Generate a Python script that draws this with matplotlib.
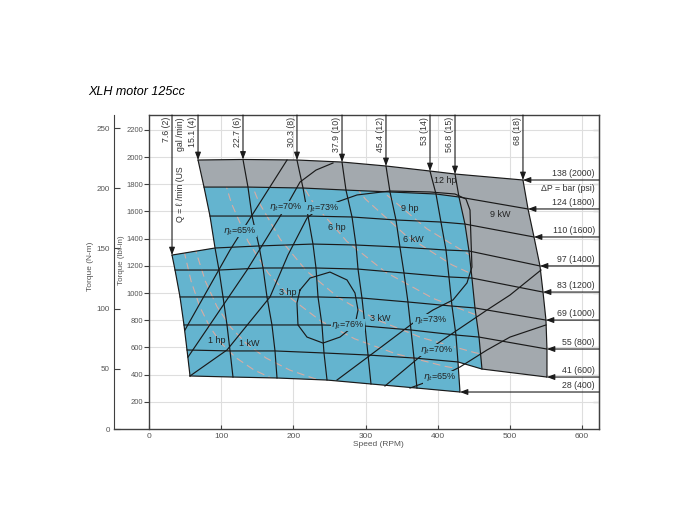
import numpy as np
import matplotlib.pyplot as plt
from matplotlib.patches import Polygon

plt.rcParams['font.family'] = ['Liberation Sans', 'DejaVu Sans']
plt.rcParams['mathtext.fontset'] = 'dejavusans'

# flow lines  Q = l/min (US gal/min)
flow_labels = ['7.6 (2)', '15.1 (4)', '22.7 (6)', '30.3 (8)', '37.9 (10)',
               '45.4 (12)', '53 (14)', '56.8 (15)', '68 (18)']
# pressure lines  dP = bar (psi)
pressure_labels = ['138 (2000)', '124 (1800)', '110 (1600)', '97 (1400)', '83 (1200)',
                   '69 (1000)', '55 (800)', '41 (600)', '28 (400)']

nan = np.nan
# speed (RPM) where flow line (row) crosses pressure line (column)
node_speed = np.array([
    [nan, nan, nan, 31.5, 35.7, 42.6, 48.1, 52.3, 56.5],
    [67.6, 75.9, 84.2, 91.2, 96.7, 102.3, 107.8, 112.0, 116.1],
    [130.0, 136.9, 142.5, 152.2, 157.8, 163.3, 170.2, 174.4, 177.2],
    [204.9, 213.3, 220.2, 227.1, 231.3, 234.1, 239.6, 242.4, 246.6],
    [267.4, 272.9, 281.3, 286.8, 289.6, 295.1, 299.3, 303.5, 307.6],
    [328.4, 334.0, 342.3, 347.8, 353.4, 358.9, 363.1, 367.3, 371.4],
    [389.5, 397.8, 404.7, 411.7, 415.8, 420.0, 425.5, 428.3, 431.1],
    [424.2, 429.7, 438.0, 443.6, 447.7, 451.9, 457.5, 461.6, nan],
    [518.5, 525.5, 533.8, 542.1, 546.3, 550.4, 551.8, 551.8, nan],
])
# torque (lbf-in) at the same crossings
node_torque = np.array([
    [nan, nan, nan, 1279, 1169, 971, 765, 581, 390],
    [1978, 1779, 1566, 1331, 1169, 971, 765, 574, 382],
    [1982, 1779, 1566, 1346, 1184, 971, 765, 574, 375],
    [1978, 1772, 1566, 1360, 1184, 971, 765, 559, 360],
    [1963, 1757, 1559, 1353, 1176, 963, 757, 544, 331],
    [1934, 1743, 1537, 1338, 1147, 934, 728, 522, 301],
    [1897, 1728, 1522, 1316, 1118, 904, 691, 493, 272],
    [1875, 1706, 1507, 1309, 1110, 890, 676, 441, nan],
    [1831, 1618, 1412, 1199, 1007, 801, 588, 382, nan],
])

# power curves (speed RPM, torque lbf-in)
hp1_speed = [40, 48, 58, 70, 84, 100, 120, 145, 175, 210]
hp1_torque = [1576, 1313, 1087, 900, 750, 630, 525, 435, 360, 300]
kw1_speed = [45, 54, 65, 78, 94, 113, 135, 162, 195, 235, 280]
kw1_torque = [1878, 1565, 1300, 1084, 899, 748, 626, 522, 433, 360, 302]
hp3_speed = [95, 114, 137, 165, 198, 238, 285, 342, 410, 490, 560]
hp3_torque = [1990, 1659, 1380, 1146, 955, 794, 663, 553, 461, 386, 338]
kw3_speed = [127, 152, 182, 218, 262, 314, 377, 452, 540, 560]
kw3_torque = [1996, 1668, 1393, 1163, 968, 807, 673, 561, 470, 453]
hp6_speed = [190, 228, 274, 328, 394, 470, 560]
hp6_torque = [1990, 1659, 1380, 1153, 960, 805, 675]
kw6_speed = [255, 300, 355, 420, 495, 560]
kw6_torque = [1989, 1690, 1428, 1207, 1024, 906]
hp9_speed = [285, 330, 385, 450, 505, 560]
hp9_torque = [1990, 1719, 1473, 1261, 1123, 1013]
kw9_speed = [380, 420, 465, 510, 560]
kw9_torque = [2002, 1811, 1636, 1492, 1358]
hp12_speed = [380, 420, 465, 510, 560]
hp12_torque = [1990, 1801, 1626, 1483, 1351]
power_names = ['1 hp', '1 kW', '3 hp', '3 kW', '6 hp', '6 kW', '9 hp', '9 kW', '12 hp']
power_label_speed = [93, 138, 192, 321, 260, 367, 362, 487, 410]
power_label_torque = [654, 632, 1007, 816, 1485, 1397, 1625, 1581, 1824]

# total efficiency contours
eff65a_speed = [49.5, 112.0, 128.6, 191.1]
eff65a_torque = [728, 1316, 1456, 1978]
eff70a_speed = [53.7, 135.6, 191.1, 209.1, 231.3, 254.9]
eff70a_torque = [529, 1169, 1647, 1816, 1904, 1956]
eff73_speed = [56.5, 107.8, 167.5, 192.4, 218.8, 232.7, 260.4, 288.2, 334.0, 389.5, 424.2,
               439.4, 445.0, 446.4, 447.7, 440.8, 421.4, 393.6, 365.9, 320.1, 260.4]
eff73_torque = [390, 581, 971, 1279, 1551, 1610, 1669, 1721, 1750, 1743, 1728,
                1691, 1610, 1390, 1191, 1074, 949, 875, 779, 596, 360]
eff76_speed = [209.1, 223.0, 250.7, 274.3, 285.4, 289.6, 285.4, 264.6, 241.0, 218.8, 206.3, 204.9, 209.1]
eff76_torque = [1022, 1110, 1154, 1096, 1000, 875, 765, 676, 632, 676, 765, 926, 1022]
eff70b_speed = [327.0, 386.7, 421.4, 468.6, 500.5, 543.5]
eff70b_torque = [316, 581, 706, 875, 985, 1169]
eff65b_speed = [361.7, 403.3, 431.1, 468.6, 500.5, 550.4]
eff65b_torque = [301, 382, 456, 581, 676, 765]
eff_names = ['65%', '70%', '73%', '76%', '73%', '70%', '65%']
eff_label_speed = [126, 189, 240, 276, 390, 399, 403]
eff_label_torque = [1456, 1632, 1625, 765, 801, 581, 382]

speed_ticks = [0, 100, 200, 300, 400, 500, 600]
lbf_ticks = [200, 400, 600, 800, 1000, 1200, 1400, 1600, 1800, 2000, 2200]
nm_ticks = [0, 50, 100, 150, 200, 250]

BLUE = '#64b4cf'
GRAY = '#a3a9ae'
SALMON = '#d8aca3'
INK = '#1a1a1a'
AXC = '#404040'
TXT = '#555555'

W, H = 673, 530
fig = plt.figure(figsize=(W / 100, H / 100), dpi=100)
ax = fig.add_axes([114 / W, 1 - 429 / H, 485 / W, 314 / H])
xmin, xmax, ymax = -49, 624, 2309
ax.set_xlim(xmin, xmax)
ax.set_ylim(0, ymax)

# grid
ax.vlines(speed_ticks[1:], 0, ymax, color='#dedede', lw=0.8, zorder=0.5)
ax.hlines(lbf_ticks, 0, xmax, color='#dedede', lw=0.8, zorder=0.5)

# envelope (gray = intermittent) and continuous region (blue)
outline = ([(i, 0) for i in range(1, 9)] + [(8, j) for j in range(1, 8)] + [(7, 7), (6, 7), (6, 8)]
           + [(i, 8) for i in range(5, -1, -1)] + [(0, j) for j in range(7, 2, -1)]
           + [(1, 3), (1, 2), (1, 1)])
blue = ([(i, 1) for i in range(1, 8)] + [(7, j) for j in range(2, 8)] + [(6, 7), (6, 8)]
        + [(i, 8) for i in range(5, -1, -1)] + [(0, j) for j in range(7, 2, -1)] + [(1, 3), (1, 2)])
env = Polygon([(node_speed[i, j], node_torque[i, j]) for i, j in outline], closed=True,
              fc=GRAY, ec='none', zorder=1)
ax.add_patch(env)
cont = Polygon([(node_speed[i, j], node_torque[i, j]) for i, j in blue], closed=True,
               fc=BLUE, ec='none', zorder=1.1)
ax.add_patch(cont)

# power curves
power_curves = [(hp1_speed, hp1_torque), (kw1_speed, kw1_torque), (hp3_speed, hp3_torque),
                (kw3_speed, kw3_torque), (hp6_speed, hp6_torque), (kw6_speed, kw6_torque),
                (hp9_speed, hp9_torque), (kw9_speed, kw9_torque), (hp12_speed, hp12_torque)]
for s, t in power_curves:
    ln, = ax.plot(s, t, color=SALMON, lw=0.8, dashes=(7, 4), zorder=2)
    ln.set_clip_path(cont)

# flow and pressure lines
for i in range(len(flow_labels)):
    ok = ~np.isnan(node_speed[i])
    ax.plot(node_speed[i][ok], node_torque[i][ok], color=INK, lw=0.85, zorder=3)
for j in range(len(pressure_labels)):
    ok = ~np.isnan(node_speed[:, j])
    ax.plot(node_speed[:, j][ok], node_torque[:, j][ok], color=INK, lw=0.85, zorder=3)

# efficiency contours
for s, t in [(eff65a_speed, eff65a_torque), (eff70a_speed, eff70a_torque), (eff73_speed, eff73_torque),
             (eff76_speed, eff76_torque), (eff70b_speed, eff70b_torque), (eff65b_speed, eff65b_torque)]:
    ax.plot(s, t, color=INK, lw=0.85, zorder=4)

for name, s, t in zip(power_names, power_label_speed, power_label_torque):
    ax.text(s, t, name, fontsize=6.5, color='#222', ha='center', va='center', zorder=5)
for name, s, t in zip(eff_names, eff_label_speed, eff_label_torque):
    ax.text(s, t, r'$\eta_t$=' + name, fontsize=6.5, color='#222', ha='center', va='center', zorder=5,
            bbox=dict(fc=BLUE, ec='none', pad=0.3))

# arrows and labels for flow lines (from top) and pressure lines (from right)
arrow = dict(arrowstyle='-|>,head_length=0.45,head_width=0.17', color=INK, lw=0.8,
             shrinkA=0, shrinkB=0, mutation_scale=10)
for i, lab in enumerate(flow_labels):
    j = np.where(~np.isnan(node_speed[i]))[0][0]
    s, t = node_speed[i, j], node_torque[i, j]
    ax.annotate('', xy=(s, t), xytext=(s, ymax), arrowprops=arrow, zorder=6)
    ax.annotate(lab, xy=(s, ymax), xytext=(-3.8, -1.5), textcoords='offset points', rotation=90,
                ha='center', va='top', fontsize=6.3, color='#333')
for j, lab in enumerate(pressure_labels):
    i = np.where(~np.isnan(node_speed[:, j]))[0][-1]
    s, t = node_speed[i, j], node_torque[i, j]
    ax.annotate('', xy=(s, t), xytext=(xmax, t), arrowprops=arrow, zorder=6)
    ax.annotate(lab, xy=(xmax, t), xytext=(-3, 1.2), textcoords='offset points',
                ha='right', va='bottom', fontsize=6.3, color='#333')
ax.annotate('ΔP = bar (psi)', xy=(xmax, 1765), xytext=(-3, 0), textcoords='offset points',
            ha='right', va='center', fontsize=6.3, color='#333')
ax.text(42.6, 1522, 'Q = ℓ /min (US', rotation=90, ha='center', va='bottom', fontsize=6.3, color='#333')
ax.text(42.6, 2295, 'gal /min)', rotation=90, ha='center', va='top', fontsize=6.3, color='#333')

# axes styling
for sp in ax.spines.values():
    sp.set_color(AXC)
    sp.set_linewidth(1.0)
ax.spines['left'].set_position(('data', 0))
ax.spines['top'].set_bounds(0, xmax)
ax.set_xticks(speed_ticks)
ax.set_yticks(lbf_ticks)
ax.tick_params(axis='x', direction='in', length=3, pad=3, labelsize=6, labelcolor=TXT, color=AXC)
ax.tick_params(axis='y', direction='out', length=3.5, pad=0.8, labelsize=5.5, labelcolor=TXT, color=AXC)

sec = ax.secondary_yaxis(0.0, functions=(lambda t: t / 8.8507, lambda n: n * 8.8507))
sec.set_yticks(nm_ticks)
sec.tick_params(direction='in', length=4, pad=3, labelsize=5.8, labelcolor=TXT, color=AXC)
sec.spines['left'].set_color(AXC)

sec_r = ax.secondary_yaxis('right')
sec_r.set_yticks(lbf_ticks)
sec_r.tick_params(direction='in', length=4, labelright=False, color=AXC)
sec_r.spines['right'].set_color(AXC)

fig.text(88 / W, 1 - 92 / H, 'XLH motor 125cc', style='italic', fontsize=9, ha='left', va='center')
fig.text(378 / W, 1 - 444 / H, 'Speed (RPM)', fontsize=6, color=TXT, ha='center', va='center')
fig.text(91 / W, 1 - 266 / H, 'Torque (N-m)', fontsize=6, color=TXT, rotation=90, ha='center', va='center')
fig.text(121.5 / W, 1 - 260 / H, 'Torque (lbf-in)', fontsize=5.8, color=TXT, rotation=90, ha='center', va='center')

fig.savefig('out.png', dpi=100)
